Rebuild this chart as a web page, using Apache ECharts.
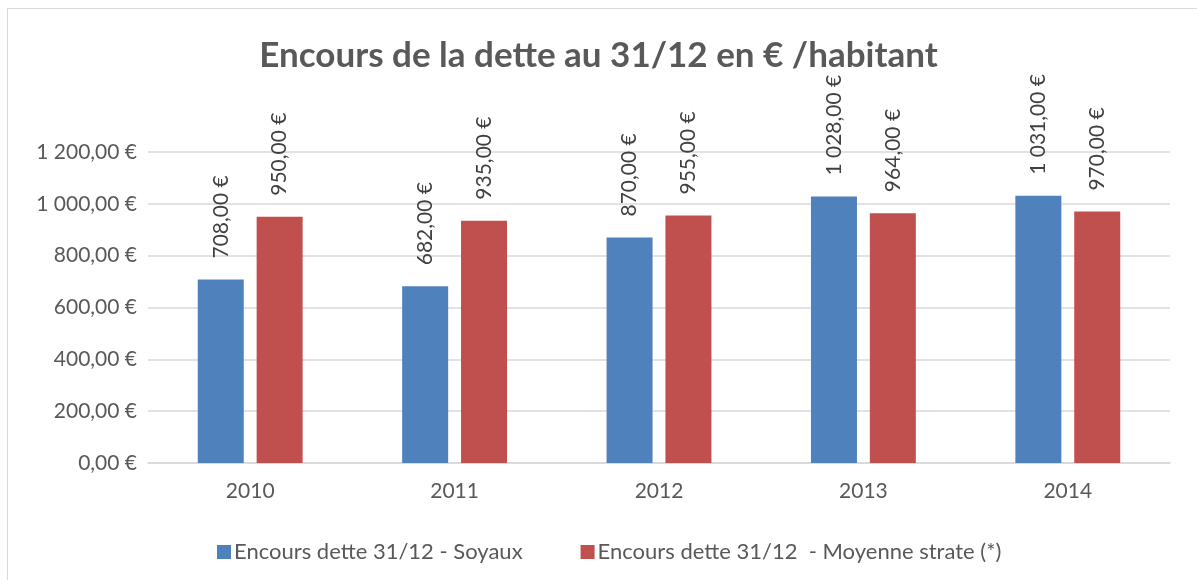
<!DOCTYPE html>
<html>
<head>
<meta charset="utf-8">
<script src="https://cdn.jsdelivr.net/npm/echarts@6/dist/echarts.min.js"></script>
<style>
  html, body { margin: 0; padding: 0; background: #fff; }
  .frame {
    position: absolute; left: 7px; top: 8px;
    width: 1200px; height: 590px;
    border: 1px solid #d9d9d9; box-sizing: border-box;
  }
  #chart { position: absolute; left: 0; top: 0; width: 1197px; height: 580px; }
</style>
</head>
<body>
<div class="frame"></div>
<div id="chart"></div>
<script>
const years = ["2010", "2011", "2012", "2013", "2014"];
const soyaux = [708, 682, 870, 1028, 1031];
const moyenne = [950, 935, 955, 964, 970];
const seriesNames = ["Encours dette 31/12 - Soyaux", "Encours dette 31/12  - Moyenne strate (*)"];

// format "1 200,00 €"
function euro(v) {
  const s = v.toFixed(2).split(".");
  const int = s[0].replace(/\B(?=(\d{3})+(?!\d))/g, " ");
  return int + "," + s[1] + " €";
}

const font = "Lato, 'Open Sans', sans-serif";
const chart = echarts.init(document.getElementById("chart"));

const labelCfg = {
  show: true,
  position: "top",
  rotate: 90,
  align: "left",
  verticalAlign: "middle",
  distance: 21,
  color: "#404040",
  fontSize: 21,
  fontFamily: font,
  formatter: p => euro(p.value)
};

chart.setOption({
  animation: false,
  title: {
    text: "Encours de la dette au 31/12 en € /habitant",
    left: "center",
    top: 33,
    textStyle: { color: "#595959", fontSize: 35, fontWeight: "bold", fontFamily: font }
  },
  legend: {
    top: 536,
    left: 212,
    itemWidth: 14,
    itemHeight: 14,
    itemGap: 58,
    icon: "rect",
    textStyle: { color: "#595959", fontSize: 22, fontFamily: font, padding: [0, 0, 0, -2] },
    data: seriesNames
  },
  grid: { left: 148, right: 27, top: 152, bottom: 117 },
  xAxis: {
    type: "category",
    data: years,
    axisTick: { show: false },
    axisLine: { lineStyle: { color: "#d9d9d9", width: 1.5 } },
    axisLabel: { color: "#595959", fontSize: 21, fontFamily: font, margin: 18 }
  },
  yAxis: {
    type: "value",
    min: 0,
    max: 1200,
    interval: 200,
    axisLabel: { color: "#595959", fontSize: 21, fontFamily: font, margin: 11, formatter: v => euro(v) },
    splitLine: { lineStyle: { color: "#d9d9d9", width: 1.5 } }
  },
  series: [
    {
      name: seriesNames[0], type: "bar", data: soyaux,
      itemStyle: { color: "#4F81BD" },
      barWidth: 46, barGap: "28%",
      label: labelCfg
    },
    {
      name: seriesNames[1], type: "bar", data: moyenne,
      itemStyle: { color: "#C0504D" },
      barWidth: 46,
      label: labelCfg
    }
  ]
});
</script>
</body>
</html>
